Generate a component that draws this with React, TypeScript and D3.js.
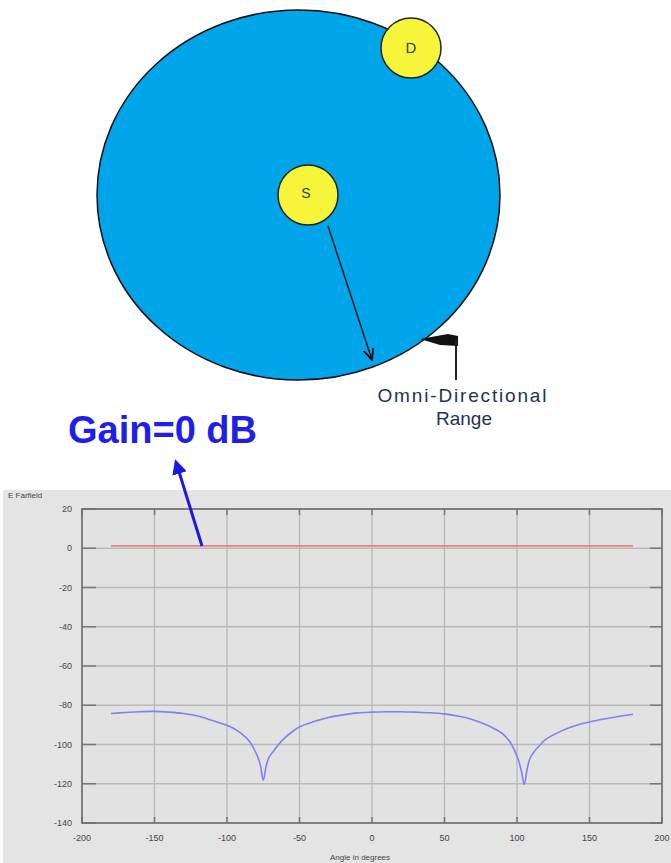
import React from 'react';
import * as d3 from 'd3';

// far-field pattern (angle in degrees -> dB)
const ANGLES = [
  -180, -170, -160, -150, -140, -130, -120, -110, -100, -95, -90, -85, -82, -79, -77, -75, -73, -71, -68,
  -65, -60, -55, -50, -40, -30, -20, -10, 0, 10, 20, 30, 40, 50, 60, 65, 70, 75, 80, 85, 90, 95, 98, 101,
  103, 105, 107, 109, 112, 115, 120, 130, 140, 150, 160, 170, 180,
];
const ARRAY_GAIN = [
  -84.2, -83.7, -83.3, -83.1, -83.5, -84.2, -85.5, -87.8, -90.2, -92, -94.5, -98, -101.5, -106, -110.5,
  -118.2, -111, -106.5, -103.5, -100.5, -96.5, -93.5, -91, -88.3, -86.2, -84.9, -83.9, -83.5, -83.3, -83.3,
  -83.5, -83.8, -84.4, -85.6, -86.4, -87.5, -88.8, -90.3, -92.2, -94.5, -98.5, -102.5, -108, -113.5, -120.4,
  -112.5, -107, -103.5, -101, -97.3, -93.3, -90.4, -88.5, -87, -85.7, -84.6,
];
const OMNI_ANGLES = [-180, 180];
const OMNI_GAIN = [1.2, 1.2];

const X_TICKS = [-200, -150, -100, -50, 0, 50, 100, 150, 200];
const Y_TICKS = [20, 0, -20, -40, -60, -80, -100, -120, -140];

const W = 671;
const H = 863;
const plot = { left: 82, right: 662, top: 509, bottom: 823 };

export default function App() {
  const x = d3.scaleLinear().domain([-200, 200]).range([plot.left, plot.right]);
  const y = d3.scaleLinear().domain([-140, 20]).range([plot.bottom, plot.top]);

  const pattern = d3
    .line<number>()
    .x((_, i) => x(ANGLES[i]))
    .y((d) => y(d))
    .curve(d3.curveCatmullRom.alpha(0.5))(ARRAY_GAIN);

  const omni = d3
    .line<number>()
    .x((_, i) => x(OMNI_ANGLES[i]))
    .y((d) => y(d))(OMNI_GAIN);

  return (
    <svg
      width={W}
      height={H}
      style={{ position: 'absolute', left: 0, top: 0, background: '#fff' }}
      fontFamily="'Liberation Sans', Arial, sans-serif"
    >
      <defs>
        <marker id="blackHead" viewBox="0 0 10 10" refX="9" refY="5" markerWidth="9" markerHeight="9" orient="auto">
          <path d="M0,1 L9,5 L0,9" fill="none" stroke="#000" strokeWidth="1.4" />
        </marker>
        <marker id="blueHead" viewBox="0 0 10 10" refX="8" refY="5" markerWidth="5" markerHeight="5" orient="auto">
          <path d="M0,0 L10,5 L0,10 z" fill="#1a1ae0" />
        </marker>
      </defs>

      {/* coverage diagram */}
      <ellipse cx={298.5} cy={195} rx={201.5} ry={185} fill="#00a4e8" stroke="#111" strokeWidth={1.5} />
      <circle cx={411} cy={48} r={30} fill="#f7f53a" stroke="#222" strokeWidth={1.5} />
      <text x={411} y={53} textAnchor="middle" fontSize={15} fill="#3a3a2a">D</text>
      <circle cx={308} cy={195} r={30} fill="#f7f53a" stroke="#222" strokeWidth={1.5} />
      <text x={306} y={198} textAnchor="middle" fontSize={14} fill="#3a3a2a">S</text>
      <line x1={328} y1={226} x2={372} y2={360} stroke="#111" strokeWidth={1.4} markerEnd="url(#blackHead)" />

      <polygon points="420,339 448,334 458,336 458,346 440,345" fill="#111" />
      <line x1={456} y1={340} x2={456} y2={380} stroke="#222" strokeWidth={2} />
      <text x={462} y={402} textAnchor="middle" fontSize={19} fill="#25324f" textLength={169} lengthAdjust="spacing">
        Omni-Directional
      </text>
      <text x={464} y={425} textAnchor="middle" fontSize={19} fill="#25324f">Range</text>

      <text x={68} y={443} fontSize={38} fontWeight="bold" fill="#1f1fe8">Gain=0 dB</text>

      {/* farfield plot panel */}
      <rect x={3} y={490} width={W - 3} height={H - 490} fill="#e4e4e4" />
      <rect x={plot.left} y={plot.top} width={plot.right - plot.left} height={plot.bottom - plot.top} fill="#e2e2e2" />

      {X_TICKS.map((t) => (
        <line key={'gx' + t} x1={x(t)} x2={x(t)} y1={plot.top} y2={plot.bottom} stroke="#b9b9b9" strokeWidth={1.3} />
      ))}
      {Y_TICKS.map((t) => (
        <line key={'gy' + t} x1={plot.left} x2={plot.right} y1={y(t)} y2={y(t)} stroke="#b9b9b9" strokeWidth={1.3} />
      ))}

      {/* tick marks */}
      {Y_TICKS.map((t) => (
        <g key={'ty' + t} stroke="#777" strokeWidth={1.5}>
          <line x1={plot.left} x2={plot.left + 14} y1={y(t)} y2={y(t)} />
          <line x1={plot.right - 12} x2={plot.right} y1={y(t)} y2={y(t)} />
        </g>
      ))}
      {X_TICKS.map((t) => (
        <g key={'tx' + t} stroke="#777" strokeWidth={1.5}>
          <line x1={x(t)} x2={x(t)} y1={plot.top} y2={plot.top + 6} />
          <line x1={x(t)} x2={x(t)} y1={plot.bottom - 6} y2={plot.bottom} />
        </g>
      ))}

      <rect
        x={plot.left}
        y={plot.top}
        width={plot.right - plot.left}
        height={plot.bottom - plot.top}
        fill="none"
        stroke="#6e6e6e"
        strokeWidth={1.6}
      />

      <path d={omni ?? ''} fill="none" stroke="#f08080" strokeWidth={1.6} />
      <path d={pattern ?? ''} fill="none" stroke="#8080f2" strokeWidth={1.6} />

      {Y_TICKS.map((t) => (
        <text key={'ly' + t} x={72} y={y(t) + 3} textAnchor="end" fontSize={9} fill="#444">
          {t}
        </text>
      ))}
      {X_TICKS.map((t) => (
        <text key={'lx' + t} x={x(t)} y={841} textAnchor="middle" fontSize={9} fill="#444">
          {t}
        </text>
      ))}
      <text x={8} y={498} fontSize={8} fill="#444">E Farfield</text>
      <text x={330} y={860} fontSize={8} fill="#444">Angle in degrees</text>

      {/* gain annotation arrow */}
      <line x1={202} y1={546} x2={176} y2={462} stroke="#1a1ae0" strokeWidth={3} markerEnd="url(#blueHead)" />
    </svg>
  );
}
